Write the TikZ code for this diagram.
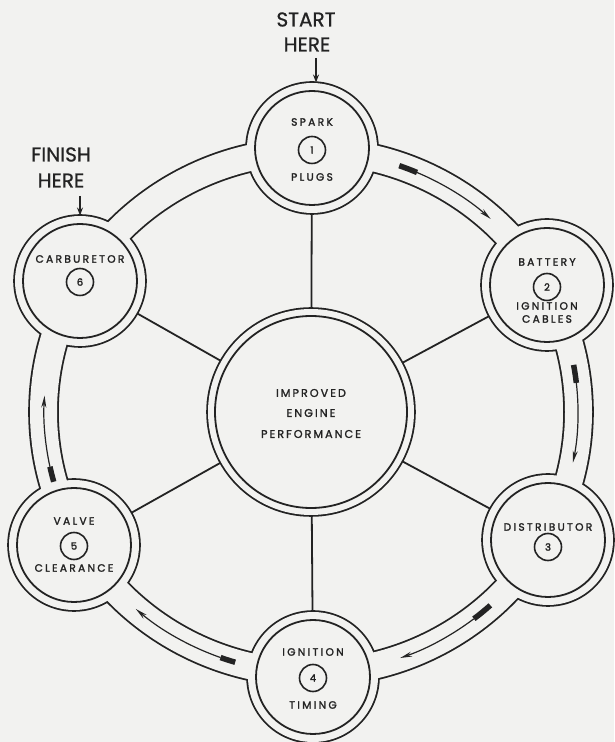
\documentclass[tikz,border=0pt]{standalone}
\usepackage{fontspec}
\setmainfont{Poppins}[FakeBold=0.8]
\newfontfamily\labfont{Poppins}[LetterSpace=22,FakeBold=2]
\newfontfamily\midfont{Poppins}[LetterSpace=18,FakeBold=1.6]
\newfontfamily\numfont{Poppins}[FakeBold=2.2]
\usetikzlibrary{arrows.meta,calc}
\definecolor{paper}{RGB}{242,242,240}
\definecolor{ink}{RGB}{35,35,35}
\begin{document}
\begin{tikzpicture}[x=1pt,y=1pt,
  thickline/.style={draw=ink,line width=3.6pt},
  normline/.style={draw=ink,line width=1.8pt},
  lab/.style={text=ink,font=\labfont\fontsize{10.6}{12}\selectfont,inner sep=0pt,anchor=center},
  midlab/.style={text=ink,font=\midfont\fontsize{11.2}{12}\selectfont,inner sep=0pt,anchor=center},
  numc/.style={circle,draw=ink,line width=1.6pt,minimum size=27pt,inner sep=0pt,text=ink,font=\numfont\fontsize{10}{11}\selectfont},
  big/.style={text=ink,font=\fontsize{20}{22}\selectfont,inner sep=0pt,anchor=center},
  shaft/.style={draw=ink,line width=1.2pt,-{Stealth[length=12pt,width=5pt]}},
  tailblock/.style={draw=ink,line width=5.5pt},
  pointer/.style={draw=ink,line width=1.6pt,-{Stealth[length=8pt,width=6pt]}}
]
\fill[paper] (0,0) rectangle (614,742);
\useasboundingbox (0,0) rectangle (614,742);
% centres
\coordinate (C) at (311,330);
\coordinate (spark) at (312,594);
\coordinate (battery) at (547,457);
\coordinate (distrib) at (548,202);
\coordinate (timing) at (313,65);
\coordinate (valve) at (74,197);
\coordinate (carb) at (80,461);
% union outline: stroke double width, then fill
\path[thickline] (C) ellipse[x radius=281,y radius=274];
\path[thickline] (C) ellipse[x radius=254,y radius=248];
\foreach \n in {spark,battery,distrib,timing,valve,carb}{
  \path[thickline] (\n) circle[radius=65];
}
\path[thickline] (C) circle[radius=103];
% spokes
\foreach \n in {spark,battery,distrib,timing,valve,carb}{
  \draw[normline] (C) -- (\n);
}
% clear interiors
\fill[paper,even odd rule] (C) ellipse[x radius=281,y radius=274] (C) ellipse[x radius=254,y radius=248];
\foreach \n in {spark,battery,distrib,timing,valve,carb}{
  \fill[paper] (\n) circle[radius=65];
}
\fill[paper] (C) circle[radius=103];
% inner circles
\foreach \n in {spark,battery,distrib,timing,valve,carb}{
  \draw[normline] (\n) circle[radius=57];
}
\draw[normline] (C) circle[radius=96];
% centre text
\node[midlab] (t1) at ($(C)+(0,19)$) {IMPROVED};
\node[midlab] (t2) at ($(C)+(0,-1)$) {ENGINE};
\node[midlab] (t3) at ($(C)+(0,-22)$) {PERFORMANCE};
% node labels
\node[lab] at ([yshift=26pt]spark) {SPARK};
\node[numc] (n1) at ([yshift=-2pt]spark) {1};
\node[lab] at ([yshift=-29pt]spark) {PLUGS};
\node[lab] at ([yshift=23pt]battery) {BATTERY};
\node[numc] (n2) at ([yshift=-2pt]battery) {2};
\node[lab] at ([yshift=-21pt]battery) {IGNITION};
\node[lab] at ([yshift=-34pt]battery) {CABLES};
\node[lab] at ([yshift=13pt]distrib) {DISTRIBUTOR};
\node[numc] (n3) at ([yshift=-7pt]distrib) {3};
\node[lab] at ([yshift=25pt]timing) {IGNITION};
\node[numc] (n4) at ([yshift=-1pt]timing) {4};
\node[lab] at ([yshift=-28pt]timing) {TIMING};
\node[lab] at ([yshift=24pt]valve) {VALVE};
\node[numc] (n5) at ([yshift=-1pt]valve) {5};
\node[lab] at ([yshift=-23pt]valve) {CLEARANCE};
\node[lab] at ([yshift=22pt]carb) {CARBURETOR};
\node[numc] (n6) at ([yshift=-1pt]carb) {6};
% ring arrows (clockwise)
\def\ra{267}\def\rb{261}
\draw[tailblock] (C) ++(70.7:\ra pt and \rb pt) arc[start angle=70.7,end angle=66.6,x radius=\ra,y radius=\rb];
\draw[shaft] (C) ++(66.6:\ra pt and \rb pt) arc[start angle=66.6,end angle=47.7,x radius=\ra,y radius=\rb];
\draw[tailblock] (C) ++(10.4:\ra pt and \rb pt) arc[start angle=10.4,end angle=6.4,x radius=\ra,y radius=\rb];
\draw[shaft] (C) ++(6.4:\ra pt and \rb pt) arc[start angle=6.4,end angle=-11.2,x radius=\ra,y radius=\rb];
\draw[tailblock] (C) ++(-47.8:\ra pt and \rb pt) arc[start angle=-47.8,end angle=-52.4,x radius=\ra,y radius=\rb];
\draw[shaft] (C) ++(-52.4:\ra pt and \rb pt) arc[start angle=-52.4,end angle=-70.5,x radius=\ra,y radius=\rb];
\draw[tailblock] (C) ++(-106.5:\ra pt and \rb pt) arc[start angle=-106.5,end angle=-109.8,x radius=\ra,y radius=\rb];
\draw[shaft] (C) ++(-109.8:\ra pt and \rb pt) arc[start angle=-109.8,end angle=-131,x radius=\ra,y radius=\rb];
\draw[tailblock] (C) ++(195.5:\ra pt and \rb pt) arc[start angle=195.5,end angle=192.1,x radius=\ra,y radius=\rb];
\draw[shaft] (C) ++(192.1:\ra pt and \rb pt) arc[start angle=192.1,end angle=176.4,x radius=\ra,y radius=\rb];
% start / finish
\node[big] (start) at (306,722.5) {START};
\node[big] (starthere) at (307,697.5) {HERE};
\coordinate (sa) at (316,684);
\coordinate (sb) at (316,659.5);
\draw[pointer] (sa) -- (sb);
\node[big] (finish) at (61,587.5) {FINISH};
\node[big] (finishhere) at (61,561.5) {HERE};
\coordinate (fa) at (80,546);
\coordinate (fb) at (80,526.5);
\draw[pointer] (fa) -- (fb);
\end{tikzpicture}
\end{document}
